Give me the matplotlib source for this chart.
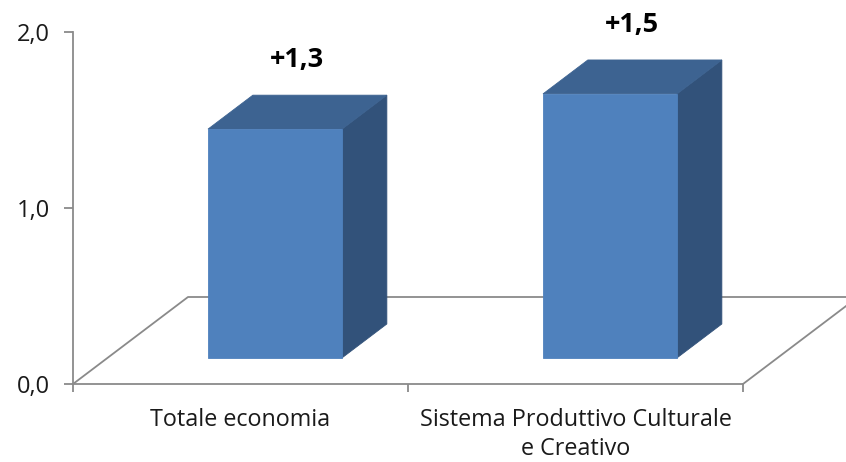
import matplotlib
matplotlib.use("Agg")
import matplotlib.pyplot as plt
from matplotlib.patches import Polygon
from matplotlib.ticker import FuncFormatter

categories = ["Totale economia", "Sistema Produttivo Culturale\ne Creativo"]
values = [1.3, 1.5]
value_labels = ["+1,3", "+1,5"]

plt.rcParams["font.family"] = ["Open Sans", "DejaVu Sans"]

GRAY = "#8a8a8a"
FRONT = "#4f81bd"
TOP = "#3d6391"
SIDE = "#32527a"

fig = plt.figure(figsize=(8.46, 4.62), dpi=100)
ax = fig.add_axes([73 / 846, 78 / 462, 773 / 846, 352 / 462])
ax.set_xlim(-0.5, -0.5 + 773 / 335)
ax.set_ylim(0, 2)

# oblique "depth" direction in data units, and bar depth range
ddx = 115 / 335
ddy = 87 / 176
z0, z1 = 0.30, 0.69
w = 0.40

# floor (front edge is the bottom spine)
n = len(categories)
x0, x1 = -0.5, n - 0.5
ax.plot([x0, x0 + ddx, x1 + ddx, x1], [0, ddy, ddy, 0],
        color=GRAY, lw=1.3, clip_on=False, zorder=1)

for i, v in enumerate(values):
    cx = i + z0 * ddx
    fl, fr = cx - w / 2, cx + w / 2
    yb, yt = z0 * ddy, v + z0 * ddy
    dx, dy = (z1 - z0) * ddx, (z1 - z0) * ddy
    side = [(fr, yb), (fr + dx, yb + dy), (fr + dx, yt + dy), (fr, yt)]
    top = [(fl, yt), (fr, yt), (fr + dx, yt + dy), (fl + dx, yt + dy)]
    front = [(fl, yb), (fr, yb), (fr, yt), (fl, yt)]
    for pts, c in ((side, SIDE), (top, TOP), (front, FRONT)):
        ax.add_patch(Polygon(pts, closed=True, facecolor=c, edgecolor=c,
                             lw=0.6, clip_on=False, zorder=3))
    ax.text(i + (z0 + z1) / 2 * ddx, v + z1 * ddy + 0.2, value_labels[i],
            ha="center", va="center", fontsize=19.5, fontweight="bold",
            color="black", clip_on=False, zorder=4)

# axes
for s in ("top", "right"):
    ax.spines[s].set_visible(False)
ax.spines["left"].set_color(GRAY)
ax.spines["bottom"].set_color(GRAY)
ax.spines["left"].set_linewidth(1.3)
ax.spines["bottom"].set_linewidth(1.3)
ax.spines["bottom"].set_bounds(x0, x1)

ax.set_yticks([0, 1, 2])
ax.yaxis.set_major_formatter(FuncFormatter(lambda y, _: f"{y:.1f}".replace(".", ",")))
ax.tick_params(axis="y", length=6.5, width=1.3, color=GRAY, pad=10,
               labelsize=17, labelcolor="#1a1a1a")

ax.set_xticks([x0 + k for k in range(n + 1)])
ax.set_xticklabels([])
ax.tick_params(axis="x", which="major", length=6, width=1.3, color=GRAY)
ax.set_xticks(range(n), minor=True)
ax.set_xticklabels(categories, minor=True)
ax.tick_params(axis="x", which="minor", length=0, pad=17, labelsize=16.8,
               labelcolor="#1a1a1a")
for t in ax.get_xticklabels(minor=True):
    t.set_linespacing(1.32)

fig.savefig("out.png", dpi=100)
